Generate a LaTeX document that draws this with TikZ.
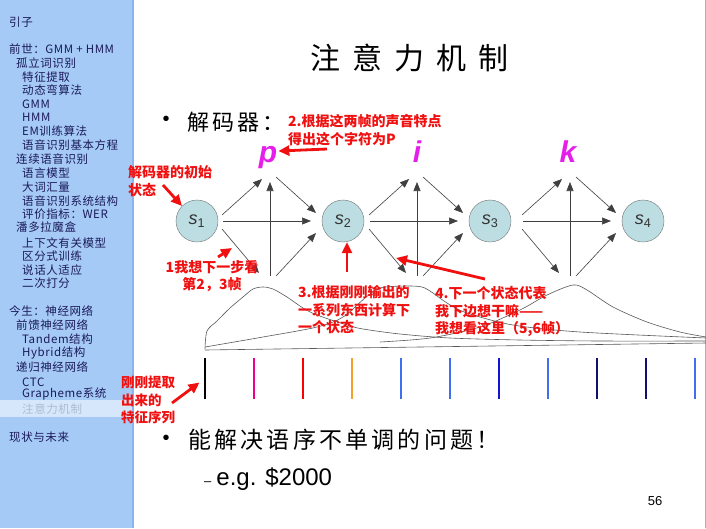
\documentclass[tikz,border=0pt]{standalone}
\usepackage{fontspec}
\setmainfont{Liberation Sans}
\newfontfamily\cjk{Noto Sans CJK SC}
\newfontfamily\cjktitle{Noto Sans CJK SC}[LetterSpace=40]
\newfontfamily\cjkbody{Noto Sans CJK SC}[LetterSpace=14]
\newfontfamily\cjkmenu{Noto Sans CJK SC}[LetterSpace=5]
\usetikzlibrary{arrows.meta,calc}
\definecolor{sidebarblue}{RGB}{166,202,246}
\definecolor{sideedge}{RGB}{140,180,238}
\definecolor{menuhl}{RGB}{214,230,251}
\definecolor{menuink}{RGB}{26,26,90}
\definecolor{menugrey}{RGB}{176,188,206}
\definecolor{stateblue}{RGB}{188,221,226}
\definecolor{letterpink}{RGB}{230,30,235}
\definecolor{barblue}{RGB}{64,110,240}
\definecolor{barmid}{RGB}{20,20,210}
\definecolor{barnavy}{RGB}{16,16,110}
\definecolor{barorange}{RGB}{245,160,40}
\definecolor{notered}{RGB}{240,16,16}
\begin{document}
\begin{tikzpicture}[x=1pt, y=-1pt,
  menu/.style={anchor=west, inner sep=0pt, text=menuink, font=\cjkmenu\fontsize{11.5}{11.5}\selectfont},
  state/.style={circle, draw=black!55, fill=stateblue, minimum size=42pt, inner sep=0pt, text=black!80, font=\fontsize{18}{18}\selectfont},
  flow/.style={draw=black!75, line width=0.6pt, -{Triangle[length=9pt,width=7pt]}},
  letter/.style={anchor=base, inner sep=0pt, text=letterpink, font=\bfseries\itshape\fontsize{30}{30}\selectfont},
  note/.style={anchor=north west, inner sep=0pt, align=left, text=notered, font=\cjk\bfseries\fontsize{14}{17.8}\selectfont},
  hint/.style={draw=notered, line width=2.8pt, -{Triangle[length=11pt,width=10pt]}},
  curve/.style={draw=black!65, line width=0.6pt},
  bar/.style={rectangle, inner sep=0pt, minimum width=2.6pt, minimum height=41pt}]

  \useasboundingbox (0,0) rectangle (706,528);
  \fill[white] (0,0) rectangle (706,528);

  % side menu
  \fill[sidebarblue] (0,0) rectangle (133,528);
  \fill[menuhl] (0,400) rectangle (133,417);
  \draw[sideedge, line width=1.5pt] (133,0) -- (133,528);
  \draw[sideedge, line width=1pt] (705.5,0) -- (705.5,528);
  \foreach \y/\x/\t [count=\n] in {22/9/引子, 49/9/前世：GMM + HMM, 63/16/孤立词识别,
      77/22/特征提取, 90/22/动态弯算法, 104/22/GMM, 117/22/HMM, 131/22/EM训练算法,
      145/22/语音识别基本方程, 159/16/连续语音识别, 173/22/语言模型, 187/22/大词汇量,
      201/22/语音识别系统结构, 214/22/评价指标：WER, 227/16/潘多拉魔盒,
      243/22/上下文有关模型, 256/22/区分式训练, 270/22/说话人适应, 283/22/二次打分,
      311/9/今生：神经网络, 325/16/前馈神经网络, 339/22/Tandem结构, 353/22/Hybrid结构,
      367/16/递归神经网络, 382/22/CTC, 394/22/Grapheme系统, 437/9/现状与未来}
    \node[menu] (menu\n) at (\x,\y) {\t};
  \node[menu, text=menugrey] (menucur) at (22,409) {注意力机制};

  % slide text
  \node[anchor=west, inner sep=0pt, font=\cjktitle\fontsize{30}{30}\selectfont] (title) at (310,58) {注意力机制};
  \node[inner sep=0pt, font=\fontsize{20}{20}\selectfont] (dot1) at (166,121) {\textbullet};
  \node[anchor=west, inner sep=0pt, font=\cjkbody\fontsize{22}{22}\selectfont] (decoder) at (187,122) {解码器：};
  \node[inner sep=0pt, font=\fontsize{20}{20}\selectfont] (dot2) at (166,440) {\textbullet};
  \node[anchor=west, inner sep=0pt, font=\cjkbody\fontsize{23}{23}\selectfont] (order) at (188,440) {能解决语序不单调的问题！};
  \node[anchor=west, inner sep=0pt, font=\fontsize{24}{24}\selectfont] (example) at (204,479)
    {{\fontsize{13}{13}\selectfont\textendash}\hspace{5pt}e.g. \$2000};
  \node[inner sep=0pt, font=\fontsize{13}{13}\selectfont] (page) at (655,501) {56};

  % decoder states
  \node[state] (s1) at (197,221) {\textit{s}\textsubscript{1}};
  \node[state] (s2) at (343,221) {\textit{s}\textsubscript{2}};
  \node[state] (s3) at (490,221) {\textit{s}\textsubscript{3}};
  \node[state] (s4) at (643,221) {\textit{s}\textsubscript{4}};

  \coordinate (c1) at (270,221);
  \coordinate (c2) at (417,221);
  \coordinate (c3) at (570,221);
  \foreach \k in {1,2,3}{
    \draw[flow] ($(c\k)+(-47,0)$) -- ($(c\k)+(41,0)$);
    \draw[flow] ($(c\k)+(-48,-6)$) -- ($(c\k)+(-8,-42)$);
    \draw[flow] ($(c\k)+(0,55)$) -- ($(c\k)+(0,-39)$);
    \draw[flow] ($(c\k)+(6,-44)$) -- ($(c\k)+(46,-8)$);
    \draw[flow] ($(c\k)+(-48,8)$) -- ($(c\k)+(-11,52)$);
    \draw[flow] ($(c\k)+(6,55)$) -- ($(c\k)+(46,12)$);
  }
  \node[letter] (lp) at (268,162) {p};
  \node[letter] (li) at (417,162) {i};
  \node[letter] (lk) at (568,162) {k};

  % attention curves
  \draw[curve] plot[smooth, tension=0.5] coordinates {(205,349) (207,331) (217,321) (230,308)
    (243,297) (253,289) (263,287) (273,289) (287,297) (303,308) (317,315) (347,325)
    (363,329) (400,334) (450,338) (520,340) (600,341) (706,341)};
  \draw[curve] plot[smooth, tension=0.5] coordinates {(205,347) (263,337) (317,327) (343,317)
    (365,298) (380,288) (405,286) (422,287) (433,293) (447,303) (467,313) (513,325)
    (580,332) (706,338)};
  \draw[curve] plot[smooth, tension=0.5] coordinates {(380,342) (430,338) (480,327) (520,310)
    (547,295) (573,285) (587,290) (613,307) (647,322) (680,332) (706,337)};
  \draw[curve] (205,350) -- (706,343);

  % feature frames
  \foreach \c [count=\n] in {black, magenta, red, barorange, barblue, barblue, barmid, barblue, barnavy, barnavy, barblue}
    \node[bar, fill=\c] (bar\n) at ({205+49*(\n-1)},378.5) {};

  % notes
  \node[note] (noteinit) at (128,165) {解码器的初始\\状态};
  \node[note] (notep) at (288,114) {2.根据这两帧的声音特点\\得出这个字符为P};
  \node[note, anchor=north, align=center] (noteone) at (212,260) {1我想下一步看\\第2，3帧};
  \node[note] (notethree) at (298,285) {3.根据刚刚输出的\\一系列东西计算下\\一个状态};
  \node[note] (notefour) at (435,286) {4.下一个状态代表\\我下边想干嘛——\\我想看这里（5,6帧）};
  \node[note, font=\cjk\bfseries\fontsize{13.5}{17.5}\selectfont] (notefeat) at (121,376) {刚刚提取\\出来的\\特征序列};

  \coordinate (hinit) at (163,185);
  \coordinate (hp) at (327,149);
  \coordinate (hone) at (218,257);
  \coordinate (honetip) at (232,248);
  \coordinate (hthree) at (347,272);
  \coordinate (hfour) at (485,279);
  \coordinate (hfourtip) at (396,258);
  \coordinate (hfeat) at (172,403);
  \draw[hint] (hinit) -- (s1.135);
  \draw[hint] (hp) -- ($(lp.east)+(1,-6)$);
  \draw[hint] (hone) -- (honetip);
  \draw[hint] (hthree) -- (hthree |- s2.south);
  \draw[hint] (hfour) -- (hfourtip);
  \draw[hint] (hfeat) -- ($(bar1.west)+(-4,4)$);
\end{tikzpicture}
\end{document}
